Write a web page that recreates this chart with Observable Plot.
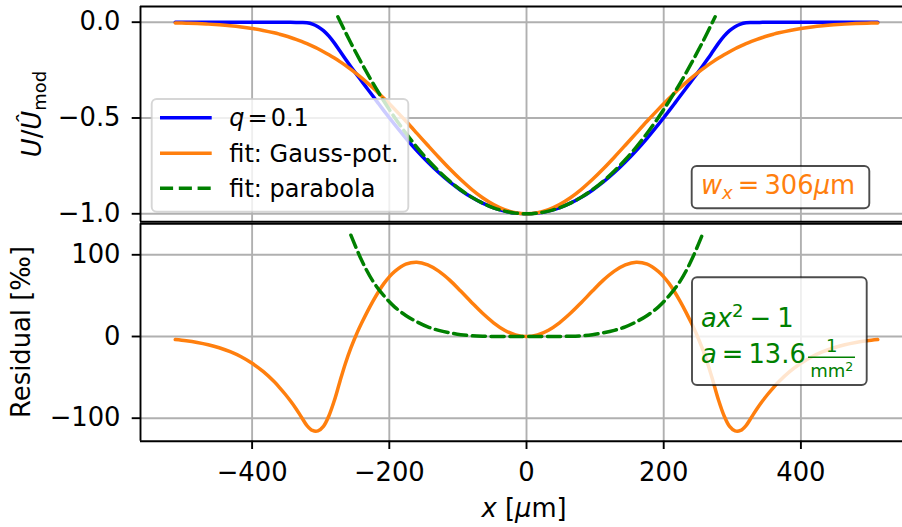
<!DOCTYPE html>
<html>
<head>
<meta charset="utf-8">
<script src="https://cdn.jsdelivr.net/npm/d3@7"></script>
<script src="https://cdn.jsdelivr.net/npm/@observablehq/plot@0.6"></script>
<style>
  html, body { margin: 0; padding: 0; background: #fff; }
  #fig { position: relative; width: 902px; height: 527px; overflow: hidden; font-family: "DejaVu Sans", sans-serif; }
  #fig svg { position: absolute; left: 0; top: 0; }
</style>
</head>
<body>
<div id="fig"></div>
<script>
// Position along the trap axis (µm); finer sampling around the trap edge
const xGrid = [-512,-496,-480,-464,-448,-432,-416,-400,-384,-368,-360,-352,-344,-336,-328,-320,-312,-304,-296,-288,-280,-272,-264,-256,-248,-240,-232,-224,-216,-208,-200,-192,-176,-160,-144,-128,-112,-96,-80,-64,-48,-32,-16,0,16,32,48,64,80,96,112,128,144,160,176,192,200,208,216,224,232,240,248,256,264,272,280,288,296,304,312,320,328,336,344,352,360,368,384,400,416,432,448,464,480,496,512];

// Normalised potential for q = 0.1
const potQ = [0,0,0,0,0,0,0,0,-0.0001,-0.0002,-0.0003,-0.0005,-0.0009,-0.0013,-0.0017,-0.0032,-0.0100,-0.0234,-0.0439,-0.0731,-0.1094,-0.1509,-0.1927,-0.2327,-0.2713,-0.3092,-0.3473,-0.3854,-0.4237,-0.4616,-0.4986,-0.5347,-0.6045,-0.6698,-0.7298,-0.7847,-0.8339,-0.8769,-0.9139,-0.9446,-0.9688,-0.9861,-0.9965,-1.0000,-0.9965,-0.9861,-0.9688,-0.9446,-0.9139,-0.8769,-0.8339,-0.7847,-0.7298,-0.6698,-0.6045,-0.5347,-0.4986,-0.4616,-0.4237,-0.3854,-0.3473,-0.3092,-0.2713,-0.2327,-0.1927,-0.1509,-0.1094,-0.0731,-0.0439,-0.0234,-0.0100,-0.0032,-0.0017,-0.0013,-0.0009,-0.0005,-0.0003,-0.0002,-0.0001,0,0,0,0,0,0,0,0];

// Gaussian potential fit (w_x = 306 µm)
const potGauss = [-0.0037,-0.0052,-0.0073,-0.0101,-0.0138,-0.0186,-0.0248,-0.0328,-0.0429,-0.0554,-0.0628,-0.0709,-0.0799,-0.0897,-0.1005,-0.1122,-0.1250,-0.1389,-0.1539,-0.1701,-0.1874,-0.2059,-0.2257,-0.2467,-0.2688,-0.2922,-0.3168,-0.3424,-0.3692,-0.3969,-0.4256,-0.4550,-0.5160,-0.5788,-0.6422,-0.7047,-0.7650,-0.8213,-0.8722,-0.9162,-0.9520,-0.9784,-0.9946,-1.0000,-0.9946,-0.9784,-0.9520,-0.9162,-0.8722,-0.8213,-0.7650,-0.7047,-0.6422,-0.5788,-0.5160,-0.4550,-0.4256,-0.3969,-0.3692,-0.3424,-0.3168,-0.2922,-0.2688,-0.2467,-0.2257,-0.2059,-0.1874,-0.1701,-0.1539,-0.1389,-0.1250,-0.1122,-0.1005,-0.0897,-0.0799,-0.0709,-0.0628,-0.0554,-0.0429,-0.0328,-0.0248,-0.0186,-0.0138,-0.0101,-0.0073,-0.0052,-0.0037];

// Residual of the Gaussian fit (per mille)
const resGauss = [-3.7,-5.2,-7.3,-10.1,-13.8,-18.6,-24.8,-32.8,-42.8,-55.2,-62.5,-70.4,-79.0,-88.4,-98.8,-109.0,-115.0,-115.5,-110.0,-97.0,-78.0,-55.0,-33.0,-14.0,2.5,17.0,30.5,43.0,54.5,64.7,73.0,79.7,88.5,91.0,87.6,80.0,69.0,55.6,41.7,28.4,16.8,7.7,2.0,0,2.0,7.7,16.8,28.4,41.7,55.6,69.0,80.0,87.6,91.0,88.5,79.7,73.0,64.7,54.5,43.0,30.5,17.0,2.5,-14.0,-33.0,-55.0,-78.0,-97.0,-110.0,-115.5,-115.0,-109.0,-98.8,-88.4,-79.0,-70.4,-62.5,-55.2,-42.8,-32.8,-24.8,-18.6,-13.8,-10.1,-7.3,-5.2,-3.7];

// Parabola fit a·x² − 1, a = 13.6 / mm²
const xPara = [-275,-256,-240,-224,-208,-192,-176,-160,-144,-128,-112,-96,-80,-64,-48,-32,-16,0,16,32,48,64,80,96,112,128,144,160,176,192,208,224,240,256,275];
const potPara = [0.0285,-0.1087,-0.2166,-0.3176,-0.4116,-0.4987,-0.5787,-0.6518,-0.7180,-0.7772,-0.8294,-0.8747,-0.9130,-0.9443,-0.9687,-0.9861,-0.9965,-1.0000,-0.9965,-0.9861,-0.9687,-0.9443,-0.9130,-0.8747,-0.8294,-0.7772,-0.7180,-0.6518,-0.5787,-0.4987,-0.4116,-0.3176,-0.2166,-0.1087,0.0285];

// Residual of the parabola fit (per mille)
const xParaRes = [-256,-240,-224,-208,-192,-176,-160,-144,-128,-112,-96,-80,-64,-48,-32,-16,0,16,32,48,64,80,96,112,128,144,160,176,192,208,224,240,256];
const resPara = [124.0,92.6,67.8,50.0,36.0,25.8,18.0,11.8,7.5,4.5,2.2,0.9,0.3,0.1,0,0,0,0,0,0.1,0.3,0.9,2.2,4.5,7.5,11.8,18.0,25.8,36.0,50.0,67.8,92.6,124.0];

// Tick values
const xTicks = [-400, -200, 0, 200, 400];
const yTicksTop = [0, -0.5, -1];
const yTicksBottom = [100, 0, -100];

const C_BLUE = "#0000ff", C_ORANGE = "#ff7f0e", C_GREEN = "#008000";
const GRID = "#b0b0b0";
const FS = 25.8;      // tick labels, axis titles, annotation boxes
const FS_LEG = 24;    // legend entries
const FS_SMALL = 18;  // sub/superscripts and fraction
const LW = 3.5;
const DASH = "13.1 5.7";

const rows = (xs, ys) => xs.map((x, i) => ({x, y: ys[i]}));
const fmtTop = d3.format(".1f");
const fmtInt = d3.format("d");

const xDomain = [-562.7, 548.1];
const yTopDomain = [-1.0418, 0.0819];
const yBotDomain = [-128.15, 137.94];

const common = {
  width: 902,
  marginLeft: 140,
  marginRight: 0,
  style: {background: "transparent", fontFamily: "DejaVu Sans", fontSize: FS + "px", color: "#000", overflow: "visible"}
};

const topPanel = Plot.plot({
  ...common,
  height: 224,
  marginTop: 6,
  marginBottom: 224 - 221.3,
  x: {domain: xDomain, axis: null},
  y: {domain: yTopDomain, axis: null},
  marks: [
    Plot.gridX(xTicks, {stroke: GRID, strokeOpacity: 1, strokeWidth: 1.9}),
    Plot.gridY(yTicksTop, {stroke: GRID, strokeOpacity: 1, strokeWidth: 1.9}),
    Plot.line(rows(xGrid, potQ), {x: "x", y: "y", stroke: C_BLUE, strokeWidth: LW, curve: "catmull-rom"}),
    Plot.line(rows(xGrid, potGauss), {x: "x", y: "y", stroke: C_ORANGE, strokeWidth: LW, curve: "catmull-rom"}),
    Plot.line(rows(xPara, potPara), {x: "x", y: "y", stroke: C_GREEN, strokeWidth: LW, strokeDasharray: DASH, curve: "catmull-rom"}),
    Plot.axisY(yTicksTop, {tickSize: 8.3, tickPadding: 11.7, fontSize: FS, tickFormat: fmtTop, strokeWidth: 1.9, label: null}),
    Plot.ruleY([yTopDomain[1]], {stroke: "#000", strokeWidth: 1.9}),
    Plot.ruleY([yTopDomain[0]], {stroke: "#000", strokeWidth: 1.9}),
    Plot.ruleX([xDomain[0]], {stroke: "#000", strokeWidth: 1.9})
  ]
});

const bottomPanel = Plot.plot({
  ...common,
  height: 527,
  marginTop: 223.3,
  marginBottom: 527 - 440.7,
  x: {domain: xDomain, axis: null},
  y: {domain: yBotDomain, axis: null},
  marks: [
    Plot.gridX(xTicks, {stroke: GRID, strokeOpacity: 1, strokeWidth: 1.9}),
    Plot.gridY(yTicksBottom, {stroke: GRID, strokeOpacity: 1, strokeWidth: 1.9}),
    Plot.line(rows(xGrid, resGauss), {x: "x", y: "y", stroke: C_ORANGE, strokeWidth: LW, curve: "catmull-rom"}),
    Plot.line(rows(xParaRes, resPara), {x: "x", y: "y", stroke: C_GREEN, strokeWidth: LW, strokeDasharray: DASH, curve: "catmull-rom"}),
    Plot.axisY(yTicksBottom, {tickSize: 8.3, tickPadding: 11.7, fontSize: FS, tickFormat: fmtInt, strokeWidth: 1.9, label: null}),
    Plot.axisX(xTicks, {tickSize: 8.3, tickPadding: 12.7, fontSize: FS, tickFormat: fmtInt, strokeWidth: 1.9, label: null}),
    Plot.ruleY([yBotDomain[1]], {stroke: "#000", strokeWidth: 1.9}),
    Plot.ruleY([yBotDomain[0]], {stroke: "#000", strokeWidth: 1.9}),
    Plot.ruleX([xDomain[0]], {stroke: "#000", strokeWidth: 1.9})
  ]
});

const fig = document.getElementById("fig");
fig.appendChild(bottomPanel);
fig.appendChild(topPanel);

// Legend, annotation boxes and axis titles
const overlay = `
<svg width="902" height="527" xmlns="http://www.w3.org/2000/svg" font-family="DejaVu Sans" font-size="${FS}">
  <g font-size="${FS_LEG}">
    <rect x="151.7" y="99" width="256.6" height="112.7" rx="5" fill="#fff" fill-opacity="0.8" stroke="#cccccc" stroke-opacity="0.8" stroke-width="1.9"/>
    <line x1="160" x2="211.7" y1="117.7" y2="117.7" stroke="${C_BLUE}" stroke-width="${LW}"/>
    <line x1="160" x2="211.7" y1="153.3" y2="153.3" stroke="${C_ORANGE}" stroke-width="${LW}"/>
    <line x1="160" x2="211.7" y1="188.3" y2="188.3" stroke="${C_GREEN}" stroke-width="${LW}" stroke-dasharray="${DASH}"/>
    <text x="229.3" y="126"><tspan font-style="italic">q</tspan><tspan dx="3">=</tspan><tspan dx="3">0.1</tspan></text>
    <text x="229.3" y="162">fit: Gauss-pot.</text>
    <text x="229.3" y="197">fit: parabola</text>
  </g>
  <g>
    <rect x="691.7" y="166" width="177.6" height="42.3" rx="5" fill="#fff" fill-opacity="0.8" stroke="#000" stroke-opacity="0.7" stroke-width="1.9"/>
    <text x="701" y="194.3" fill="${C_ORANGE}"><tspan font-style="italic">w</tspan><tspan font-style="italic" font-size="${FS_SMALL}" dy="4.5">x</tspan><tspan dy="-4.5" dx="5">=</tspan><tspan dx="5">306</tspan><tspan font-style="italic">µ</tspan><tspan>m</tspan></text>
  </g>
  <g>
    <rect x="692" y="277.3" width="174.7" height="107.7" rx="5" fill="#fff" fill-opacity="0.8" stroke="#000" stroke-opacity="0.7" stroke-width="1.9"/>
    <text x="701" y="327.3" fill="${C_GREEN}"><tspan font-style="italic">ax</tspan><tspan font-size="${FS_SMALL}" dy="-10">2</tspan><tspan dy="10" dx="6">−</tspan><tspan dx="6">1</tspan></text>
    <text x="701" y="363.3" fill="${C_GREEN}"><tspan font-style="italic">a</tspan><tspan dx="5">=</tspan><tspan dx="5">13.6</tspan></text>
    <line x1="808" x2="855" y1="357.3" y2="357.3" stroke="${C_GREEN}" stroke-width="1.6"/>
    <text x="831.7" y="351.7" fill="${C_GREEN}" font-size="${FS_SMALL}" text-anchor="middle">1</text>
    <text x="831.7" y="377.3" fill="${C_GREEN}" font-size="${FS_SMALL}" text-anchor="middle">mm<tspan font-size="12.6" dy="-6">2</tspan></text>
  </g>
  <text transform="translate(41,114) rotate(-90)" text-anchor="middle"><tspan font-style="italic">U</tspan>/<tspan font-style="italic">Û</tspan><tspan font-size="${FS_SMALL}" dy="4.5">mod</tspan></text>
  <text transform="translate(30,332) rotate(-90)" text-anchor="middle">Residual [‰]</text>
  <text x="524" y="516.5" text-anchor="middle"><tspan font-style="italic">x</tspan> [<tspan font-style="italic">µ</tspan>m]</text>
</svg>`;
fig.insertAdjacentHTML("beforeend", overlay);
</script>
</body>
</html>
